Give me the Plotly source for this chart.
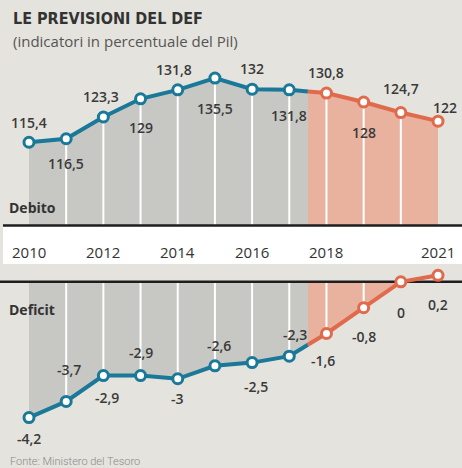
import numpy as np
import plotly.graph_objects as go

# ---------------- data ----------------
years = list(range(2010, 2022))
debito = [115.4, 116.5, 123.3, 129.0, 131.8, 135.5, 132.0, 131.8, 130.8, 128.0, 124.7, 122.0]
deficit = [-4.2, -3.7, -2.9, -2.9, -3.0, -2.6, -2.5, -2.3, -1.6, -0.8, 0.0, 0.2]
year_ticks = [2010, 2012, 2014, 2016, 2018, 2021]
last_actual = 2017          # last consuntivo year; forecasts from 2018

def fmt(v):
    s = ("%.1f" % v).rstrip("0").rstrip(".")
    return s.replace(".", ",")

debito_labels = [fmt(v) for v in debito]
deficit_labels = [fmt(v) for v in deficit]

# ---------------- style / geometry ----------------
W, H = 462, 468
BG = "#e4e3dd"
GREY_FILL = "#c7c7c3"
SALMON_FILL = "#e8b29f"
BLUE = "#1a7898"
ORANGE = "#e06a4c"
TXT = "#3a3a3a"

# label offsets in px (positive = up)
deb_dy = [20, -25, 21, -29, 20, -30, 21, -26, 21, -30, 24, 14]
deb_dx = [0, 0, -2, 0, -4, 0, 0, 0, 0, 0, 0, 7]
def_dy = [-21, 32, -22, 23, -20, 20, -24, 22, -27, -29, -31, -29]
def_dx = [0, 3, 4, 0, 0, 4, 4, 6, -3, 0, 0, 0]

x_range = [2009.22, 2021.645]
y1_range = [89.33, 141.15]
y2_range = [-5.76, 0.55]

def py(p):  # pixel y -> paper
    return 1 - p / H

def px(p):
    return p / W

split = last_actual + 0.5
yrs = np.array(years, dtype=float)

def split_series(vals):
    v = np.array(vals, dtype=float)
    mid = float(np.interp(split, yrs, v))
    a = yrs <= last_actual
    b = yrs > last_actual
    xa = list(yrs[a]) + [split]
    ya = list(v[a]) + [mid]
    xb = [split] + list(yrs[b])
    yb = [mid] + list(v[b])
    return xa, ya, xb, yb

fig = go.Figure()

# ---- Debito panel ----
xa, ya, xb, yb = split_series(debito)
fig.add_trace(go.Scatter(x=xa, y=ya, fill="tozeroy", fillcolor=GREY_FILL, mode="none",
                         xaxis="x", yaxis="y", hoverinfo="skip"))
fig.add_trace(go.Scatter(x=xb, y=yb, fill="tozeroy", fillcolor=SALMON_FILL, mode="none",
                         xaxis="x", yaxis="y", hoverinfo="skip"))
vx, vy = [], []
for yr, v in zip(years[1:-1], debito[1:-1]):
    vx += [yr, yr, None]
    vy += [y1_range[0], v, None]
fig.add_trace(go.Scatter(x=vx, y=vy, mode="lines", line=dict(color="white", width=2),
                         xaxis="x", yaxis="y", hoverinfo="skip"))
fig.add_trace(go.Scatter(x=xa, y=ya, mode="lines", line=dict(color=BLUE, width=4),
                         xaxis="x", yaxis="y"))
fig.add_trace(go.Scatter(x=xb, y=yb, mode="lines", line=dict(color=ORANGE, width=4),
                         xaxis="x", yaxis="y"))
mcol = [BLUE if y <= last_actual else ORANGE for y in years]
fig.add_trace(go.Scatter(x=years, y=debito, mode="markers", cliponaxis=False,
                         marker=dict(size=10, color="white", line=dict(color=mcol, width=3)),
                         xaxis="x", yaxis="y"))

# ---- Deficit panel ----
xa, ya, xb, yb = split_series(deficit)
fig.add_trace(go.Scatter(x=xa, y=ya, fill="tozeroy", fillcolor=GREY_FILL, mode="none",
                         xaxis="x", yaxis="y2", hoverinfo="skip"))
xs = [x for x, y in zip(xb, yb) if y <= 0]
ys = [y for y in yb if y <= 0]
fig.add_trace(go.Scatter(x=xs, y=ys, fill="tozeroy", fillcolor=SALMON_FILL, mode="none",
                         xaxis="x", yaxis="y2", hoverinfo="skip"))
vx, vy = [], []
for yr, v in zip(years[1:-1], deficit[1:-1]):
    if v < 0:
        vx += [yr, yr, None]
        vy += [0, v, None]
fig.add_trace(go.Scatter(x=vx, y=vy, mode="lines", line=dict(color="white", width=2),
                         xaxis="x", yaxis="y2", hoverinfo="skip"))
# zero line
fig.add_trace(go.Scatter(x=[2009.12, x_range[1]], y=[0, 0], mode="lines",
                         line=dict(color="#1e1e1e", width=2.5), xaxis="x", yaxis="y2",
                         cliponaxis=False, hoverinfo="skip"))
fig.add_trace(go.Scatter(x=xa, y=ya, mode="lines", line=dict(color=BLUE, width=4),
                         xaxis="x", yaxis="y2"))
fig.add_trace(go.Scatter(x=xb, y=yb, mode="lines", line=dict(color=ORANGE, width=4),
                         xaxis="x", yaxis="y2"))
fig.add_trace(go.Scatter(x=years, y=deficit, mode="markers", cliponaxis=False,
                         marker=dict(size=10, color="white", line=dict(color=mcol, width=3)),
                         xaxis="x", yaxis="y2"))

# ---------------- annotations ----------------
ann = []
lab_font = dict(family="Open Sans", size=14, color=TXT, weight=600)
for yr, v, t, dy, dx in zip(years, debito, debito_labels, deb_dy, deb_dx):
    ann.append(dict(x=yr, y=v, xref="x", yref="y", text=t, showarrow=False,
                    yshift=dy, xshift=dx, font=lab_font))
for yr, v, t, dy, dx in zip(years, deficit, deficit_labels, def_dy, def_dx):
    ann.append(dict(x=yr, y=v, xref="x", yref="y2", text=t, showarrow=False,
                    yshift=dy, xshift=dx, font=lab_font))
for yr in year_ticks:
    ann.append(dict(x=yr, y=py(252), xref="x", yref="paper", text=str(yr), showarrow=False,
                    yanchor="middle", font=dict(family="Open Sans", size=15, color="#333333")))

ann += [
    dict(x=px(11), y=py(19), xref="paper", yref="paper", xanchor="left", yanchor="middle",
         text="<b>LE PREVISIONI DEL DEF</b>", showarrow=False,
         font=dict(family="DejaVu Sans Condensed", size=16, color="#333333", weight=700)),
    dict(x=px(11), y=py(41), xref="paper", yref="paper", xanchor="left", yanchor="middle",
         text="(indicatori in percentuale del Pil)", showarrow=False,
         font=dict(family="Open Sans", size=15, color="#555555")),
    dict(x=px(7), y=py(207), xref="paper", yref="paper", xanchor="left", yanchor="middle",
         text="<b>Debito</b>", showarrow=False,
         font=dict(family="Open Sans", size=14, color="#333333")),
    dict(x=px(7), y=py(309), xref="paper", yref="paper", xanchor="left", yanchor="middle",
         text="<b>Deficit</b>", showarrow=False,
         font=dict(family="Open Sans", size=14, color="#333333")),
    dict(x=px(8), y=py(461), xref="paper", yref="paper", xanchor="left", yanchor="middle",
         text="Fonte: Ministero del Tesoro", showarrow=False,
         font=dict(family="Roboto", size=11, color="#8a8a8a", weight=300)),
]

shapes = [
    dict(type="rect", xref="paper", yref="paper", x0=px(3), x1=1, y0=py(264), y1=py(226),
         fillcolor="white", line=dict(width=0), layer="below"),
    dict(type="line", xref="paper", yref="paper", x0=px(3), x1=1, y0=py(225.5), y1=py(225.5),
         line=dict(color="#1e1e1e", width=2.5), layer="above"),
]

fig.update_layout(
    width=W, height=H, margin=dict(l=0, r=0, t=0, b=0),
    paper_bgcolor=BG, plot_bgcolor="rgba(0,0,0,0)", showlegend=False,
    xaxis=dict(range=x_range, domain=[0, 1], visible=False, fixedrange=True),
    yaxis=dict(range=y1_range, domain=[py(225.5), py(60)], visible=False),
    yaxis2=dict(range=y2_range, domain=[0, py(264)], visible=False),
    annotations=ann, shapes=shapes,
)

fig.write_html("out.html")
